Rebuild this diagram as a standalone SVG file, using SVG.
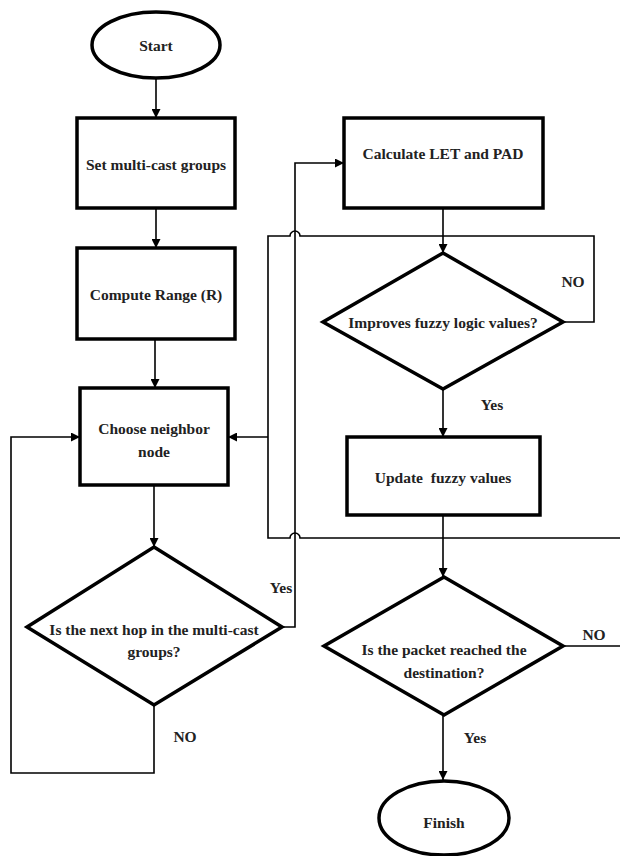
<svg xmlns="http://www.w3.org/2000/svg" width="620" height="856" viewBox="0 0 620 856">
<style>
.box{fill:#fff;stroke:#000;stroke-width:3.5}
.t{font-family:"Liberation Serif","Times New Roman",serif;font-weight:bold;font-size:15.5px;fill:#222;text-anchor:middle}
.c{fill:none;stroke:#000;stroke-width:1.6}
</style>
<defs>
<marker id="ar" viewBox="0 0 10 10" refX="10" refY="5" markerWidth="9" markerHeight="9" markerUnits="userSpaceOnUse" orient="auto">
<path d="M0,0 L10,5 L0,10 z" fill="#000"/>
</marker>
</defs>
<rect width="620" height="856" fill="#fff"/>
<g id="connectors">
<path class="c" d="M156,78 L156,118" marker-end="url(#ar)"/>
<path class="c" d="M156,208 L156,248" marker-end="url(#ar)"/>
<path class="c" d="M155,339 L155,388" marker-end="url(#ar)"/>
<path class="c" d="M154,485 L154,547" marker-end="url(#ar)"/>
<path class="c" d="M154,705 L154,773 L11,773 L11,437 L80,437" marker-end="url(#ar)"/>
<path class="c" d="M282,627 L295,627 L295,163 L344,163" marker-end="url(#ar)"/>
<path class="c" d="M443,208 L443,253" marker-end="url(#ar)"/>
<path class="c" d="M563,322 L594,322 L594,236 L300,236 A5,5 0 0 0 290,236 L268,236 L268,538 L290,538 A5,5 0 0 1 300,538 L620,538"/>
<path class="c" d="M268,437 L228,437" marker-end="url(#ar)"/>
<path class="c" d="M443,389 L443,437" marker-end="url(#ar)"/>
<path class="c" d="M443,515 L443,577" marker-end="url(#ar)"/>
<path class="c" d="M563,646 L620,646"/>
<path class="c" d="M443,715 L443,780" marker-end="url(#ar)"/>
<text class="t" x="281" y="593">Yes</text>
<text class="t" x="185" y="742">NO</text>
<text class="t" x="573" y="287">NO</text>
<text class="t" x="492" y="410">Yes</text>
<text class="t" x="594" y="640">NO</text>
<text class="t" x="475" y="743">Yes</text>
</g>
<g id="start">
<ellipse class="box" cx="156" cy="45" rx="64" ry="33"/>
<text class="t" x="156" y="51">Start</text>
</g>
<g id="set-groups">
<rect class="box" x="77" y="118" width="158" height="90"/>
<text class="t" x="156" y="170">Set multi-cast groups</text>
</g>
<g id="compute-range">
<rect class="box" x="77" y="248" width="158" height="91"/>
<text class="t" x="156" y="300">Compute Range (R)</text>
</g>
<g id="choose-neighbor">
<rect class="box" x="80" y="388" width="148" height="97"/>
<text class="t" x="154" y="434">Choose neighbor</text>
<text class="t" x="154" y="457">node</text>
</g>
<g id="next-hop">
<polygon class="box" points="154,547 282,627 154,705 27,627"/>
<text class="t" x="154" y="635">Is the next hop in the multi-cast</text>
<text class="t" x="154" y="657">groups?</text>
</g>
<g id="calculate">
<rect class="box" x="344" y="118" width="199" height="90"/>
<text class="t" x="443" y="159">Calculate LET and PAD</text>
</g>
<g id="improves">
<polygon class="box" points="443,253 563,322 443,389 323,322"/>
<text class="t" x="443" y="328">Improves fuzzy logic values?</text>
</g>
<g id="update">
<rect class="box" x="347" y="437" width="193" height="78"/>
<text class="t" x="443" y="483" xml:space="preserve">Update  fuzzy values</text>
</g>
<g id="reached">
<polygon class="box" points="444,577 563,646 444,715 324,646"/>
<text class="t" x="444" y="655">Is the packet reached the</text>
<text class="t" x="444" y="678">destination?</text>
</g>
<g id="finish">
<ellipse class="box" cx="444" cy="818" rx="65" ry="37"/>
<text class="t" x="444" y="828">Finish</text>
</g>
</svg>
